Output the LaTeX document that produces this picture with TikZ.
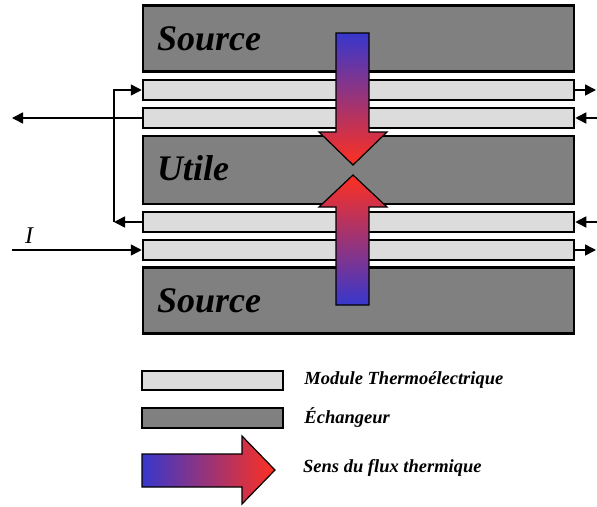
\documentclass[tikz,border=0pt]{standalone}
\usepackage{fontspec}
\setmainfont{Liberation Serif}
\usepackage{tikz}
\usetikzlibrary{arrows.meta, positioning}
\definecolor{froid}{RGB}{55,55,205}
\definecolor{chaud}{RGB}{255,48,32}
\definecolor{echgris}{RGB}{128,128,128}
\definecolor{modgris}{RGB}{220,220,220}

\begin{document}
\begin{tikzpicture}[
        x=1pt, y=-1pt,
        node distance=20pt,
        echangeur/.style={
            rectangle,
            draw=black,
            fill=echgris,
            line width=2.5pt,
            minimum width=431pt,
            minimum height=66pt,
            text width=403pt,
            inner xsep=14pt,
            align=left,
            font=\fontsize{36}{42}\selectfont\bfseries\itshape
        },
        module/.style={
            rectangle,
            draw=black,
            fill=modgris,
            line width=2.5pt,
            minimum width=431pt,
            minimum height=20pt
        },
        legende/.style={
            anchor=west,
            inner sep=0pt,
            font=\fontsize{18.5}{20}\selectfont\bfseries\itshape
        },
        fil/.style={
            -{Triangle[length=11pt,width=11pt]},
            line width=1.6pt
        },
        flux/.style={
            draw=black,
            line width=1.2pt,
            line join=miter
        }
    ]
        \useasboundingbox (0,0) rectangle (597,506);

        % echangeurs et modules
        \node (srchaut) [echangeur] at (358.5,38.5) {Source};
        \node (mod1) [module] at (358.5,90) {};
        \node (mod2) [module] at (358.5,118) {};
        \node (utile) [echangeur, minimum height=68pt] at (358.5,170) {\raisebox{4pt}{Utile}};
        \node (mod3) [module] at (358.5,222) {};
        \node (mod4) [module] at (358.5,250) {};
        \node (srcbas) [echangeur] at (358.5,300.5) {Source};

        % courant electrique
        \coordinate (sortieG) at (12,118);
        \coordinate (coinB) at (114,222);
        \coordinate (coinH) at (114,90);
        \coordinate (entreeI) at (12,250);
        \coordinate (sortieD1) at (596,90);
        \coordinate (entreeD2) at (597,118);
        \coordinate (entreeD3) at (597,222);
        \coordinate (sortieD4) at (596,250);

        \draw [fil] (mod2.west) -- (sortieG);
        \draw [fil] (mod3.west) -- (coinB);
        \draw [fil] (coinB) -- (coinH) -- (mod1.west);
        \draw [fil] (entreeI) -- (mod4.west);
        \node (courant) at (29,236) {\fontsize{24}{26}\selectfont\itshape I};
        \draw [fil] (mod1.east) -- (sortieD1);
        \draw [fil] (entreeD2) -- (mod2.east);
        \draw [fil] (entreeD3) -- (mod3.east);
        \draw [fil] (mod4.east) -- (sortieD4);

        % sens du flux thermique
        \path [flux, top color=froid, bottom color=chaud]
            (336,33) -- (369,33) -- (369,132) -- (387,132) -- (353,165)
            -- (319,132) -- (336,132) -- cycle;
        \path [flux, top color=chaud, bottom color=froid]
            (336,305) -- (369,305) -- (369,207) -- (387,207) -- (353,175)
            -- (319,207) -- (336,207) -- cycle;

        % legende
        \node (legmod) [module, minimum width=141pt, minimum height=19pt] at (212.5,380.5) {};
        \node (legech) [module, fill=echgris, minimum width=141pt, minimum height=20pt] at (212.5,418) {};
        \path [flux, left color=froid, right color=chaud]
            (142,454) -- (242,454) -- (242,436) -- (275,470) -- (242,504)
            -- (242,487) -- (142,487) -- cycle;
        \node (txtmod) [legende, right=of legmod] {Module Thermoélectrique};
        \node (txtech) [legende, right=of legech] {Échangeur};
        \node (txtflux) [legende] at (303,468) {Sens du flux thermique};
\end{tikzpicture}
\end{document}
